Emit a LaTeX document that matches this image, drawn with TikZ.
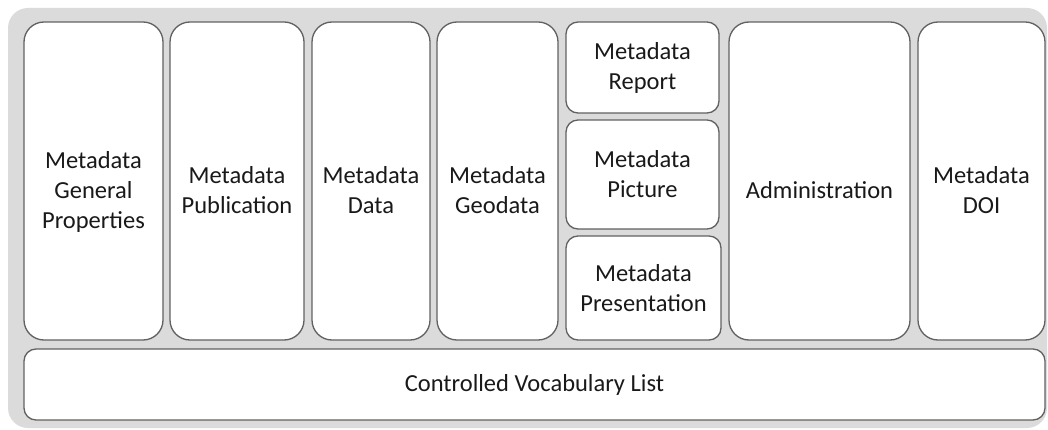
\documentclass[tikz,border=0pt]{standalone}
\usepackage{fontspec}
\setmainfont{Carlito}
\usetikzlibrary{positioning}

% text of the tall boxes sits a little below the middle
\newcommand{\lowtext}[1]{\raisebox{-18pt}[0pt][0pt]{\begin{tabular}{@{}c@{}}#1\end{tabular}}}

\begin{document}
\begin{tikzpicture}[
    x=1pt, y=-1pt,
    module/.style={draw=black!62, line width=1.3pt, fill=white, rounded corners=20pt, align=center, inner sep=2pt, text=black!90, font=\fontsize{24.5}{30}\selectfont},
    submodule/.style={module, rounded corners=12pt}
]

% Background panel
\useasboundingbox (0,0) rectangle (1048,430);
\fill[black!14, rounded corners=20pt] (8,8) rectangle (1047,428);

% Define module boxes
\node[module, minimum width=139pt, minimum height=318pt] (general) at (93.5,181) {\lowtext{Metadata\\General\\Properties}};
\node[module, minimum width=134pt, minimum height=318pt] (publication) at (237,181) {\lowtext{Metadata\\Publication}};
\node[module, minimum width=118pt, minimum height=318pt] (data) at (371,181) {\lowtext{Metadata\\Data}};
\node[module, minimum width=121pt, minimum height=318pt] (geodata) at (497.5,181) {\lowtext{Metadata\\Geodata}};

% Stacked column
\node[submodule, minimum width=153pt, minimum height=91pt] (report) at (642.5,67.5) {Metadata\\Report};
\node[submodule, minimum width=153pt, minimum height=109pt] (picture) at (642.5,174.5) {Metadata\\Picture};
\node[submodule, minimum width=155pt, minimum height=104pt] (presentation) at (643.5,288) {Metadata\\Presentation};

\node[module, minimum width=181pt, minimum height=318pt] (admin) at (819.5,181) {\lowtext{Administration}};
\node[module, minimum width=127pt, minimum height=318pt] (doi) at (981.5,181) {\lowtext{Metadata\\DOI}};

% Vocabulary bar
\node[submodule, minimum width=1021pt, minimum height=71pt] (vocab) at (534.5,384.5) {Controlled Vocabulary List};

\end{tikzpicture}
\end{document}
